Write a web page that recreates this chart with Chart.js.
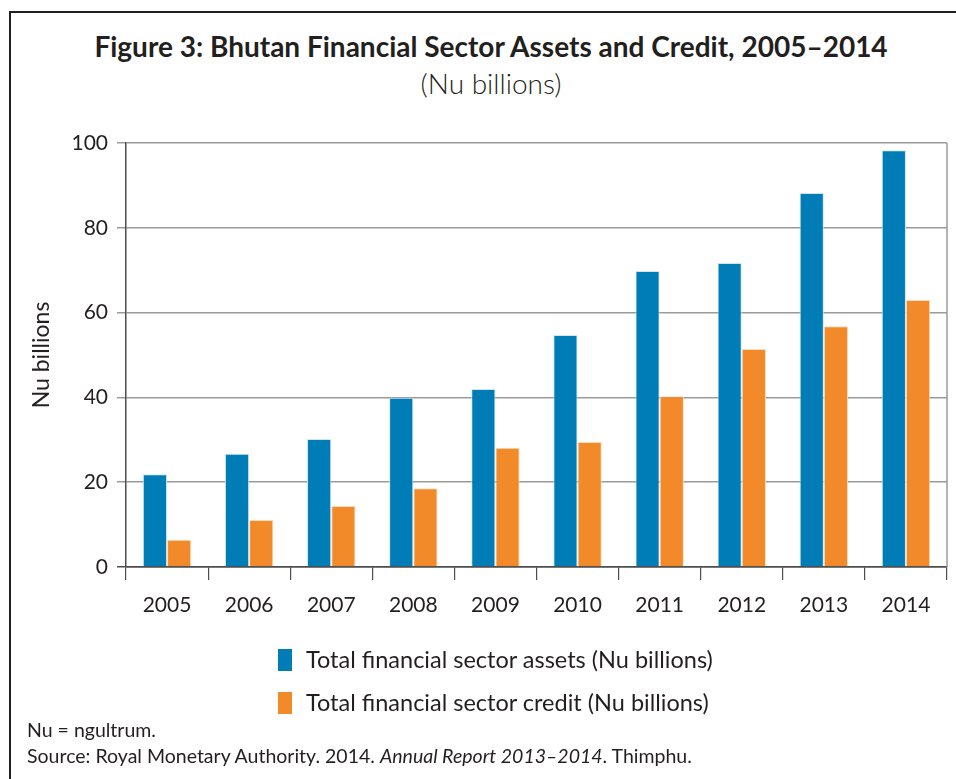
<!DOCTYPE html>
<html>
<head>
<meta charset="utf-8">
<script src="https://cdn.jsdelivr.net/npm/chart.js@4"></script>
<style>
  body { margin: 0; background: #fff; font-family: Lato, sans-serif; color: #231f20; }
  #wrap { position: relative; width: 956px; height: 779px; overflow: hidden; }
  #frame { position: absolute; left: 9px; top: 11px; width: 960px; height: 800px;
           border-left: 2px solid #231f20; border-top: 2px solid #231f20; }
  #title { position: absolute; left: 0; width: 982px; top: 29px; text-align: center;
           font-weight: bold; font-size: 28px; }
  #subtitle { position: absolute; left: 0; width: 982px; top: 66px; text-align: center;
              font-size: 28px; font-weight: 300; }
  canvas { position: absolute; left: 0; top: 0; }
  .leg { position: absolute; left: 278px; font-size: 23.5px; }
  .leg span { display: inline-block; width: 14px; height: 22px; vertical-align: -3px; margin-right: 14px; }
  .note { position: absolute; left: 27px; font-size: 19.5px; }
</style>
</head>
<body>
<div id="wrap">
  <div id="frame"></div>
  <div id="title">Figure 3: Bhutan Financial Sector Assets and Credit, 2005–2014</div>
  <div id="subtitle">(Nu billions)</div>
  <canvas id="myChart" width="956" height="779"></canvas>
  <div class="leg" style="top:645px"><span style="background:#007db7"></span>Total financial sector assets (Nu billions)</div>
  <div class="leg" style="top:688px"><span style="background:#f28a29"></span>Total financial sector credit (Nu billions)</div>
  <div class="note" style="top:718px">Nu = ngultrum.</div>
  <div class="note" style="top:744px">Source: Royal Monetary Authority. 2014. <i>Annual Report 2013–2014</i>. Thimphu.</div>
</div>
<script>
const years = ['2005', '2006', '2007', '2008', '2009', '2010', '2011', '2012', '2013', '2014'];
const assets = [21.9, 26.7, 30.2, 39.9, 42.0, 54.7, 69.8, 71.7, 88.2, 98.3];
const credit = [6.4, 11.1, 14.4, 18.6, 28.1, 29.5, 40.3, 51.4, 56.8, 63.0];
const yTicks = [0, 20, 40, 60, 80, 100];

// right border of the plot area
const rightBorder = {
  id: 'rightBorder',
  afterDraw(chart) {
    const { ctx, chartArea } = chart;
    ctx.save();
    ctx.strokeStyle = '#9a9a9a';
    ctx.lineWidth = 1.5;
    ctx.beginPath();
    ctx.moveTo(chartArea.right, chartArea.top);
    ctx.lineTo(chartArea.right, chartArea.bottom);
    ctx.stroke();
    ctx.restore();
  },
};

const ctx = document.getElementById('myChart');

new Chart(ctx, {
  type: 'bar',
  data: {
    labels: years,
    datasets: [
      {
        label: 'Total financial sector assets (Nu billions)',
        data: assets,
        backgroundColor: '#007db7',
        borderColor: '#cfe6f2',
        borderWidth: 1,
      },
      {
        label: 'Total financial sector credit (Nu billions)',
        data: credit,
        backgroundColor: '#f28a29',
        borderColor: '#fbdcbc',
        borderWidth: 1,
      },
    ],
  },
  options: {
    responsive: false,
    animation: false,
    layout: { padding: { left: 28, top: 143, right: 9, bottom: 0 } },
    categoryPercentage: 0.59,
    barPercentage: 1,
    plugins: {
      legend: { display: false },
      tooltip: { enabled: false },
    },
    scales: {
      x: {
        afterFit: (s) => { s.height = 212; },
        grid: { display: true, drawOnChartArea: false, color: '#4d4d4d', lineWidth: 1.2, tickLength: 13 },
        border: { color: '#4d4d4d', width: 1.5 },
        ticks: { color: '#231f20', font: { family: 'Lato', size: 21 }, padding: 13 },
      },
      y: {
        min: 0,
        max: 100,
        afterFit: (s) => { s.width = 98; },
        afterBuildTicks: (s) => { s.ticks = yTicks.map((v) => ({ value: v })); },
        grid: {
          color: (c) => (c.tick && c.tick.value === 0 ? '#4d4d4d' : '#9a9a9a'),
          lineWidth: 1.5,
          tickLength: 9,
        },
        border: { color: '#4d4d4d', width: 1.5 },
        ticks: { color: '#231f20', font: { family: 'Lato', size: 21 }, padding: 9 },
        title: {
          display: true,
          text: 'Nu billions',
          color: '#231f20',
          font: { family: 'Lato', size: 23 },
          padding: 0,
        },
      },
    },
  },
  plugins: [rightBorder],
});
</script>
</body>
</html>
